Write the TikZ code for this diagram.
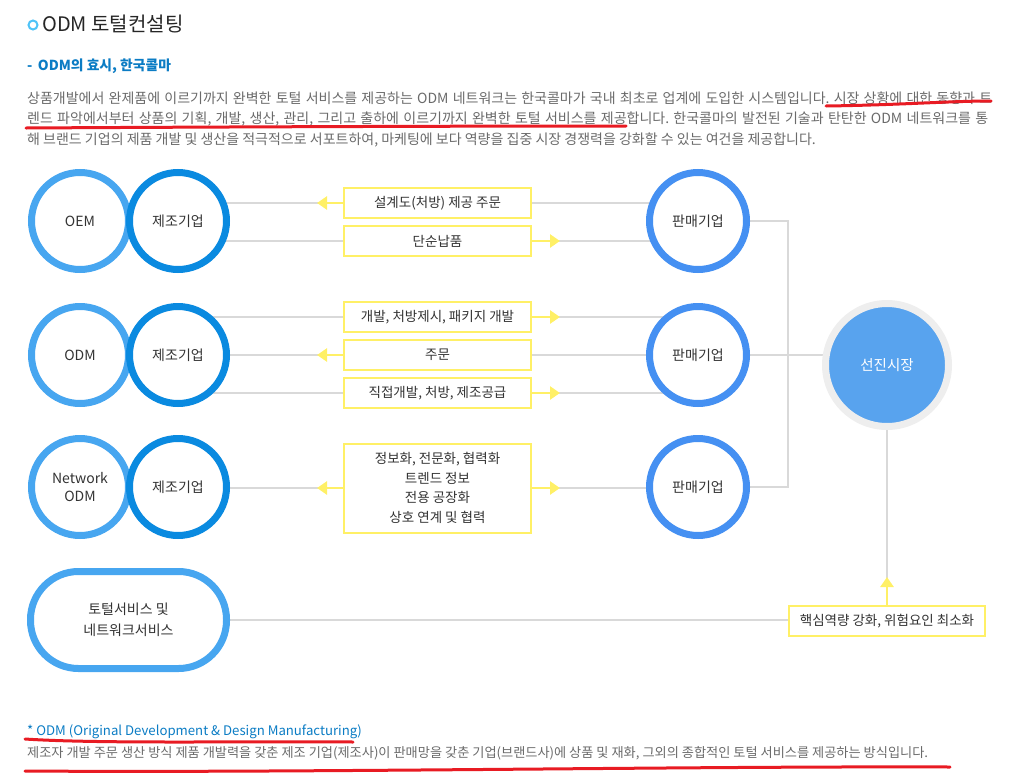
\documentclass[tikz,border=0pt]{standalone}
\usepackage{fontspec}
\setmainfont{Noto Sans CJK KR}
\usepackage{xcolor}
\usetikzlibrary{arrows.meta,positioning,backgrounds}
\definecolor{ringL}{HTML}{47A6F0}
\definecolor{ringD}{HTML}{0A8AE0}
\definecolor{ringS}{HTML}{4590F2}
\definecolor{mkfill}{HTML}{58A3EE}
\definecolor{mkring}{HTML}{EEEEEE}
\definecolor{ylw}{HTML}{FFF066}
\definecolor{gline}{HTML}{D9D9D9}
\definecolor{txt}{HTML}{333333}
\definecolor{ptxt}{HTML}{6A6A6A}
\definecolor{hblue}{HTML}{0B7CC4}
\definecolor{uline}{HTML}{E81B23}
\definecolor{dot}{HTML}{4FC3F7}
\frenchspacing

\begin{document}
\begin{tikzpicture}[x=1pt,y=-1pt,
  crc/.style={circle,draw,line width=7pt,minimum size=97pt,inner sep=0pt,fill=white,
    font=\fontsize{14}{18}\selectfont,text=txt,align=center},
  bx/.style={draw=ylw,line width=2pt,fill=white,minimum width=187pt,minimum height=30pt,
    inner sep=2pt,font=\fontsize{13.5}{19.5}\selectfont,text=txt,align=center},
  txtl/.style={anchor=west,inner sep=0pt,font=\fontsize{13.2}{15}\selectfont,text=ptxt},
  para/.style={txtl,font=\fontsize{14}{16}\selectfont},
  gl/.style={gline,line width=2.5pt},
  yar/.style={ylw,line width=2.5pt,-{Triangle[length=10pt,width=13pt]}},
  redl/.style={uline,line width=3pt,line cap=round}]
\useasboundingbox (0,0) rectangle (1031,774);

\draw[dot,line width=2pt] (33,25) circle (4.5pt);
\node[anchor=west,inner sep=0pt,font=\fontsize{20}{23}\selectfont,text=black!85] (ttl) at (42,24) {ODM 토털컨설팅};
\node[txtl,font=\fontsize{13.8}{16}\selectfont\bfseries,text=hblue] (sub) at (27,66) {-\, ODM의 효시, 한국콜마};
\node[para] (p1) at (27,98) {\makebox[965pt][s]{상품개발에서 완제품에 이르기까지 완벽한 토털 서비스를 제공하는 ODM 네트워크는 한국콜마가 국내 최초로 업계에 도입한 시스템입니다. 시장 상황에 대한 동향과 트}};
\node[para] (p2) at (27,119) {\makebox[961pt][s]{렌드 파악에서부터 상품의 기획, 개발, 생산, 관리, 그리고 출하에 이르기까지 완벽한 토털 서비스를 제공합니다. 한국콜마의 발전된 기술과 탄탄한 ODM 네트워크를 통}};
\node[para] (p3) at (27,140) {해 브랜드 기업의 제품 개발 및 생산을 적극적으로 서포트하여, 마케팅에 보다 역량을 집중 시장 경쟁력을 강화할 수 있는 여건을 제공합니다.};

\node[crc,draw=ringL] (o1) at (80,221) {OEM};
\node[crc,draw=ringD] (m1) at (178,221) {제조기업};
\node[crc,draw=ringL] (o2) at (80,355) {ODM};
\node[crc,draw=ringD] (m2) at (178,355) {제조기업};
\node[crc,draw=ringL] (o3) at (80,487) {Network\\ODM};
\node[crc,draw=ringD] (m3) at (178,487) {제조기업};
\node[draw=ringL,line width=7pt,rounded corners=48pt,minimum width=196pt,minimum height=97pt,fill=white,
  font=\fontsize{14}{21}\selectfont,text=txt,align=center] (ts) at (128.5,620) {토털서비스 및\\네트워크서비스};

\node[crc,draw=ringS] (s1) at (698,221) {판매기업};
\node[crc,draw=ringS] (s2) at (698,355) {판매기업};
\node[crc,draw=ringS] (s3) at (698,487) {판매기업};
\node[circle,draw=mkring,fill=mkfill,line width=7pt,minimum size=123pt,
  font=\fontsize{14.5}{18}\selectfont,text=white] (mk) at (887,365) {선진시장};

\node[bx] (b1) at (437.5,203) {설계도(처방) 제공 주문};
\node[bx] (b2) at (437.5,241) {단순납품};
\node[bx] (b3) at (437.5,317) {개발, 처방제시, 패키지 개발};
\node[bx] (b4) at (437.5,355) {주문};
\node[bx] (b5) at (437.5,393) {직접개발, 처방, 제조공급};
\node[bx,minimum height=89pt] (b6) at (437.5,488) {정보화, 전문화, 협력화\\트렌드 정보\\전용 공장화\\상호 연계 및 협력};
\node[bx,minimum width=196pt] (kb) at (887,621) {핵심역량 강화, 위험요인 최소화};

\coordinate (jn) at (788,355);
\begin{scope}[on background layer]
\foreach \b/\m/\s in {b1/m1/s1,b2/m1/s1,b3/m2/s2,b4/m2/s2,b5/m2/s2,b6/m3/s3}{
  \draw[gl] (\b.west) -- (\m |- \b.west);
  \draw[gl] (\b.east) -- (\s |- \b.east);
}
\draw[gl] (s1) -| (jn);
\draw[gl] (s3) -| (jn);
\draw[gl] (s2) -- (s2 -| mk);
\draw[gl] (mk) -- (kb);
\draw[gl] (ts) -- (ts -| kb);
\end{scope}

\foreach \b in {b1,b4,b6}
  \draw[yar] (\b.west) -- ++(-26,0);
\foreach \b in {b2,b3,b5,b6}
  \draw[yar] (\b.east) -- ++(28,0);
\draw[yar] (kb.north) -- ++(0,-28);

\node[txtl,text=hblue] (fn) at (27,732) {* ODM (Original Development \& Design Manufacturing)};
\node[txtl] (fd) at (27,753) {제조자 개발 주문 생산 방식 제품 개발력을 갖춘 제조 기업(제조사)이 판매망을 갖춘 기업(브랜드사)에 상품 및 재화, 그외의 종합적인 토털 서비스를 제공하는 방식입니다.};

\draw[redl] (826,106) .. controls (900,105) and (950,101) .. (991,101);
\draw[redl] (26,128) .. controls (200,127) and (450,126) .. (626,126);
\draw[redl] (25,739) .. controls (100,744) and (250,741) .. (353,742);
\draw[redl] (25,771) .. controls (300,773) and (700,766) .. (950,767);
\end{tikzpicture}
\end{document}
